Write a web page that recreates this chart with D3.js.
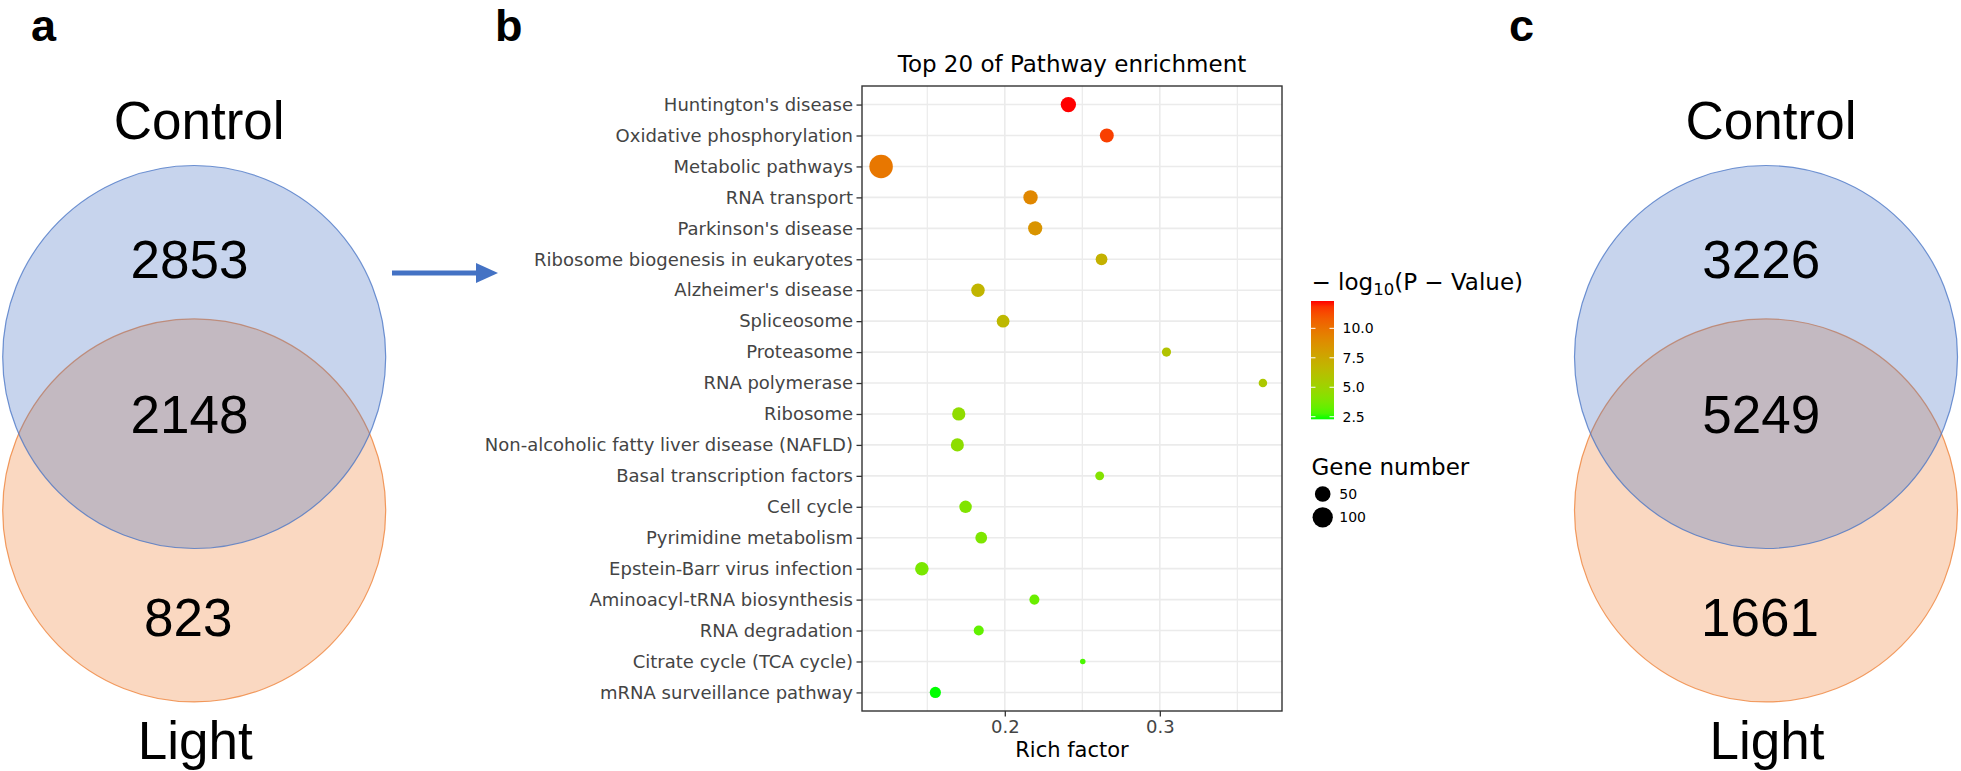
<!DOCTYPE html>
<html><head><meta charset="utf-8">
<script src="https://cdn.jsdelivr.net/npm/d3@7"></script>
<style>html,body{margin:0;padding:0;background:#fff;} svg{display:block;}</style>
</head><body>
<svg id="fig" width="1961" height="771"></svg>
<script>
// ---------- data ----------
const pathways = [
  "Huntington's disease", "Oxidative phosphorylation", "Metabolic pathways", "RNA transport",
  "Parkinson's disease", "Ribosome biogenesis in eukaryotes", "Alzheimer's disease", "Spliceosome",
  "Proteasome", "RNA polymerase", "Ribosome", "Non-alcoholic fatty liver disease (NAFLD)",
  "Basal transcription factors", "Cell cycle", "Pyrimidine metabolism", "Epstein-Barr virus infection",
  "Aminoacyl-tRNA biosynthesis", "RNA degradation", "Citrate cycle (TCA cycle)", "mRNA surveillance pathway"
];
const richFactor = [0.241, 0.2658, 0.1202, 0.2166, 0.2196, 0.2624, 0.1827, 0.1989, 0.3043, 0.3665,
                    0.1703, 0.1694, 0.2612, 0.1747, 0.1848, 0.1465, 0.2191, 0.1832, 0.2503, 0.1552];
const negLog10P = [12.32, 11.6, 9.8, 9.1, 8.5, 7.0, 6.8, 6.6, 6.0, 5.7,
                   4.5, 4.4, 4.1, 4.0, 3.9, 3.8, 3.4, 3.2, 2.8, 2.28];
const geneNumber = [47, 36, 146, 39, 38, 22, 33, 28, 11, 9,
                    31, 30, 10, 26, 22, 33, 14, 14, 5, 19];
const xMajorTicks = [0.2, 0.3];
const xMinorTicks = [0.15, 0.25, 0.35];
const colorTicks = [2.5, 5.0, 7.5, 10.0];
const sizeLegendValues = [50, 100];
const chartTitle = "Top 20 of Pathway enrichment";
const xTitle = "Rich factor";
const sizeTitle = "Gene number";

const vennSets = ["Control", "Light"];
const vennACounts = [2853, 2148, 823];   // Control only, both, Light only
const vennCCounts = [3226, 5249, 1661];
const panelLabels = ["a", "b", "c"];

// ---------- setup ----------
const svg = d3.select("#fig");
svg.append("rect").attr("width", 1961).attr("height", 771).attr("fill", "#fff");
const FONT = "'DejaVu Sans', sans-serif";
const ARIAL = "'Liberation Sans', Arial, sans-serif";

// panel labels
const labelX = [31, 495, 1509];
panelLabels.forEach((l, i) => {
  svg.append("text").attr("x", labelX[i]).attr("y", 41)
    .attr("font-family", ARIAL).attr("font-weight", "bold").attr("font-size", 45)
    .attr("fill", "#000").text(l);
});

// ---------- Venn diagrams ----------
function drawVenn(cx, counts) {
  const r = 191.5, cyTop = 357, cyBot = 510.4;
  const g = svg.append("g");
  g.append("circle").attr("cx", cx).attr("cy", cyBot).attr("r", r)
    .attr("fill", "#ED7D31").attr("fill-opacity", 0.3)
    .attr("stroke", "#ED7D31").attr("stroke-opacity", 0.75).attr("stroke-width", 1.2);
  g.append("circle").attr("cx", cx).attr("cy", cyTop).attr("r", r)
    .attr("fill", "#4472C4").attr("fill-opacity", 0.3)
    .attr("stroke", "#4472C4").attr("stroke-opacity", 0.75).attr("stroke-width", 1.2);
  const t = (x, y, s) => g.append("text").attr("x", x).attr("y", y)
    .attr("text-anchor", "middle").attr("font-family", ARIAL).attr("font-size", 53)
    .attr("fill", "#000").text(s);
  t(cx + 5, 138.5, vennSets[0]);
  t(cx - 4.7, 278, counts[0]);
  t(cx - 4.7, 432.5, counts[1]);
  t(cx - 6, 636, counts[2]);
  t(cx + 1, 759, vennSets[1]);
}
drawVenn(194.2, vennACounts);
drawVenn(1766, vennCCounts);

// arrow
svg.append("line").attr("x1", 392).attr("x2", 480).attr("y1", 273).attr("y2", 273)
  .attr("stroke", "#4472C4").attr("stroke-width", 5);
svg.append("path").attr("d", "M476,263 L498,273 L476,283 Z").attr("fill", "#4472C4");

// ---------- dot plot ----------
const P = {left: 862, right: 1282, top: 86, bottom: 711};
const xExt = d3.extent(richFactor);
const xPad = (xExt[1] - xExt[0]) * 0.05;
const x = d3.scaleLinear().domain([xExt[0] - xPad, xExt[1] + xPad]).range([P.left, P.right]);
const y = d3.scalePoint().domain(pathways).range([P.top, P.bottom]).padding(0.6);
const cExt = d3.extent(negLog10P);
const color = d3.scaleSequential(d3.interpolateLab("#00FF00", "#FF0000")).domain(cExt);
const gExt = d3.extent(geneNumber);
const rScale = d3.scaleSqrt().domain([0, gExt[1] - gExt[0]]).range([2.75, 11.75]);
const radius = v => rScale(v - gExt[0]);

const plot = svg.append("g");
// grid
plot.selectAll(".vminor").data(xMinorTicks.filter(v => x(v) > P.left && x(v) < P.right)).enter()
  .append("line").attr("x1", d => x(d)).attr("x2", d => x(d)).attr("y1", P.top).attr("y2", P.bottom)
  .attr("stroke", "#EBEBEB").attr("stroke-width", 1.2);
plot.selectAll(".vmajor").data(xMajorTicks).enter()
  .append("line").attr("x1", d => x(d)).attr("x2", d => x(d)).attr("y1", P.top).attr("y2", P.bottom)
  .attr("stroke", "#EBEBEB").attr("stroke-width", 1.6);
plot.selectAll(".hmajor").data(pathways).enter()
  .append("line").attr("x1", P.left).attr("x2", P.right).attr("y1", d => y(d)).attr("y2", d => y(d))
  .attr("stroke", "#EBEBEB").attr("stroke-width", 1.6);

// points
plot.selectAll(".pt").data(pathways).enter().append("circle")
  .attr("cx", (d, i) => x(richFactor[i]))
  .attr("cy", d => y(d))
  .attr("r", (d, i) => radius(geneNumber[i]))
  .attr("fill", (d, i) => color(negLog10P[i]));

// border
plot.append("rect").attr("x", P.left).attr("y", P.top)
  .attr("width", P.right - P.left).attr("height", P.bottom - P.top)
  .attr("fill", "none").attr("stroke", "#333").attr("stroke-width", 1.4);

// axes
const yAxis = d3.axisLeft(y).tickSize(5.5).tickPadding(3.5);
const yg = svg.append("g").attr("transform", `translate(${P.left},0)`).call(yAxis);
yg.select(".domain").remove();
yg.selectAll(".tick line").attr("stroke", "#333").attr("stroke-width", 1.3);
yg.selectAll(".tick text").attr("font-family", FONT).attr("font-size", 18).attr("fill", "#444");

const xAxis = d3.axisBottom(x).tickValues(xMajorTicks).tickFormat(d3.format(".1f")).tickSize(5.5).tickPadding(4);
const xg = svg.append("g").attr("transform", `translate(0,${P.bottom})`).call(xAxis);
xg.select(".domain").remove();
xg.selectAll(".tick line").attr("stroke", "#333").attr("stroke-width", 1.3);
xg.selectAll(".tick text").attr("font-family", FONT).attr("font-size", 18).attr("fill", "#444");

svg.append("text").attr("x", (P.left + P.right) / 2).attr("y", 757).attr("text-anchor", "middle")
  .attr("font-family", FONT).attr("font-size", 21).attr("fill", "#000").text(xTitle);
svg.append("text").attr("x", (P.left + P.right) / 2).attr("y", 72).attr("text-anchor", "middle")
  .attr("font-family", FONT).attr("font-size", 23).attr("fill", "#000").text(chartTitle);

// ---------- legends ----------
const LX = 1311.5;
const lt = svg.append("text").attr("x", LX).attr("y", 290)
  .attr("font-family", FONT).attr("font-size", 23).attr("fill", "#000");
lt.append("tspan").text("\u2212 log");
lt.append("tspan").attr("font-size", 16.5).attr("dy", 5).text("10");
lt.append("tspan").attr("dy", -5).text("(P \u2212 Value)");

const cb = {x: 1311, w: 23, top: 301, bottom: 419.3};
const cy = d3.scaleLinear().domain(cExt).range([cb.bottom, cb.top]);
const defs = svg.append("defs");
const grad = defs.append("linearGradient").attr("id", "cbar")
  .attr("x1", 0).attr("x2", 0).attr("y1", 1).attr("y2", 0);
d3.range(0, 1.0001, 0.05).forEach(t => {
  grad.append("stop").attr("offset", t)
    .attr("stop-color", color(cExt[0] + t * (cExt[1] - cExt[0])));
});
svg.append("rect").attr("x", cb.x).attr("y", cb.top).attr("width", cb.w)
  .attr("height", cb.bottom - cb.top).attr("fill", "url(#cbar)");
colorTicks.forEach(v => {
  const yy = cy(v);
  svg.append("line").attr("x1", cb.x).attr("x2", cb.x + 4.5).attr("y1", yy).attr("y2", yy)
    .attr("stroke", "#fff").attr("stroke-width", 1);
  svg.append("line").attr("x1", cb.x + cb.w - 4.5).attr("x2", cb.x + cb.w).attr("y1", yy).attr("y2", yy)
    .attr("stroke", "#fff").attr("stroke-width", 1);
  svg.append("text").attr("x", 1342.5).attr("y", yy).attr("dy", "0.36em")
    .attr("font-family", FONT).attr("font-size", 14).attr("fill", "#000")
    .text(d3.format(".1f")(v));
});

svg.append("text").attr("x", LX).attr("y", 475)
  .attr("font-family", FONT).attr("font-size", 23).attr("fill", "#000").text(sizeTitle);
const keyY = d3.scalePoint().domain(sizeLegendValues).range([494, 517.3]);
sizeLegendValues.forEach(v => {
  svg.append("circle").attr("cx", 1322.7).attr("cy", keyY(v)).attr("r", radius(v)).attr("fill", "#000");
  svg.append("text").attr("x", 1339.3).attr("y", keyY(v)).attr("dy", "0.36em")
    .attr("font-family", FONT).attr("font-size", 14).attr("fill", "#000").text(v);
});
</script>
</body></html>
